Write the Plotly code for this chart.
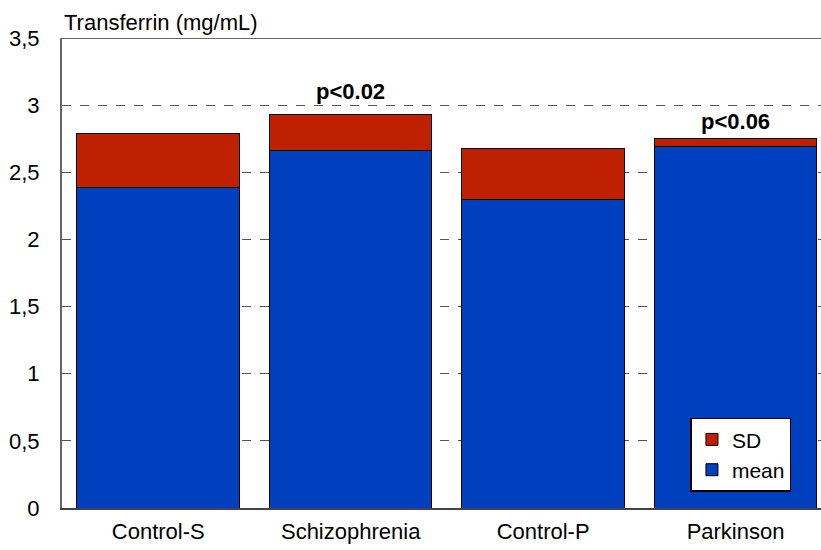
import plotly.graph_objects as go

categories = ["Control-S", "Schizophrenia", "Control-P", "Parkinson"]
mean_vals = [2.39, 2.66, 2.30, 2.69]
sd_vals = [0.40, 0.27, 0.38, 0.06]
y_tickvals = [0, 0.5, 1, 1.5, 2, 2.5, 3, 3.5]
y_ticktext = ["0", "0,5", "1", "1,5", "2", "2,5", "3", "3,5"]
p_labels = [None, "p<0.02", None, "p<0.06"]

FONT = "Liberation Sans, Arial, sans-serif"
RED = "#BF2100"
BLUE = "#0040BF"
label_shift = {1: 9, 3: 3}

fig = go.Figure()
fig.add_trace(go.Bar(x=categories, y=mean_vals, name="mean",
                     marker=dict(color=BLUE, line=dict(color="black", width=1))))
fig.add_trace(go.Bar(x=categories, y=sd_vals, name="SD",
                     marker=dict(color=RED, line=dict(color="black", width=1))))

for i, lab in enumerate(p_labels):
    if lab:
        fig.add_annotation(x=categories[i], y=mean_vals[i] + sd_vals[i], text="<b>%s</b>" % lab,
                           showarrow=False, yanchor="bottom", yshift=label_shift.get(i, 5),
                           font=dict(family=FONT, size=22, color="black"))

fig.add_annotation(x=0, xref="paper", y=1.0, yref="paper", text="Transferrin (mg/mL)",
                   showarrow=False, xanchor="left", yanchor="bottom", yshift=1,
                   font=dict(family=FONT, size=22, color="black"))

fig.add_shape(type="line", xref="paper", x0=0, x1=1, yref="y", y0=3.5, y1=3.5,
              line=dict(color="#333333", width=1.5))

fig.update_layout(
    width=821, height=550,
    margin=dict(l=62, r=0, t=38, b=42),
    barmode="stack", bargap=0.155,
    plot_bgcolor="white", paper_bgcolor="white",
    font=dict(family=FONT, size=22, color="black"),
    showlegend=True,
    legend=dict(x=0.828, y=0.192, xanchor="left", yanchor="top",
                traceorder="reversed", bgcolor="white",
                bordercolor="black", borderwidth=1.5,
                font=dict(family=FONT, size=21, color="black"),
                itemwidth=30, tracegroupgap=0),
)
fig.update_xaxes(range=[-0.5, 3.444], showgrid=False, showline=True,
                 linecolor="#444444", linewidth=1.5, ticks="",
                 ticklabelstandoff=3, tickfont=dict(size=22))
fig.update_yaxes(range=[0, 3.5], tickvals=y_tickvals, ticktext=y_ticktext,
                 showgrid=True, gridcolor="#555555", gridwidth=1, griddash="dash",
                 showline=True, linecolor="#666666", linewidth=2, zeroline=False,
                 ticks="", ticklabelstandoff=16, tickfont=dict(size=22))

fig.write_html("out.html")
